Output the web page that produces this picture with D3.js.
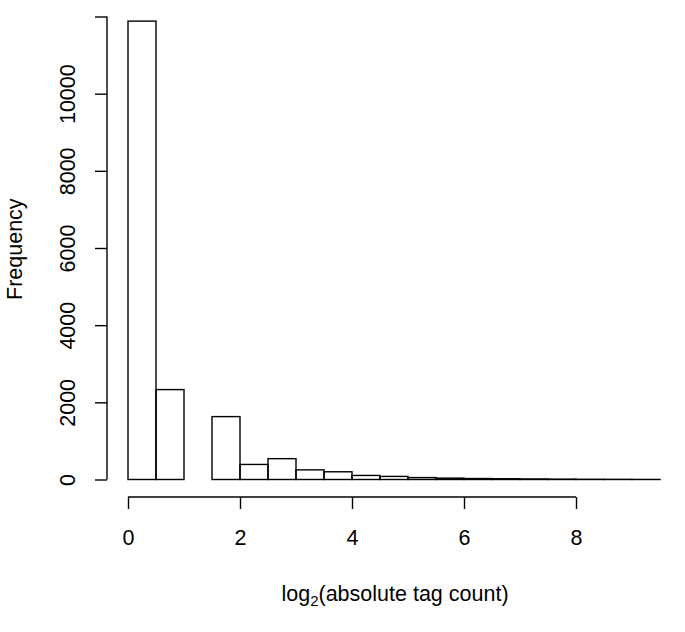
<!DOCTYPE html>
<html>
<head>
<meta charset="utf-8">
<script src="https://cdn.jsdelivr.net/npm/d3@7"></script>
<style>
  html, body { margin: 0; padding: 0; background: #fff; }
  svg text { font-family: "Liberation Sans", Arial, Helvetica, sans-serif; fill: #000; }
</style>
</head>
<body>
<svg id="chart" width="685" height="632"></svg>
<script>
// Histogram bin edges (log2 of absolute tag count), width 0.5
const binStarts = [0, 0.5, 1, 1.5, 2, 2.5, 3, 3.5, 4, 4.5, 5, 5.5, 6, 6.5, 7, 7.5, 8, 8.5, 9];
const binWidth = 0.5;
const frequencies = [11880, 2330, 0, 1630, 390, 540, 250, 200, 105, 80, 50, 35, 25, 20, 15, 10, 6, 4, 2];
const xTicks = [0, 2, 4, 6, 8];
const yTicks = [0, 2000, 4000, 6000, 8000, 10000, 12000];
const yTickLabels = ["0", "2000", "4000", "6000", "8000", "10000", ""];
const xLabelMain = "log";
const xLabelSub = "2";
const xLabelRest = "(absolute tag count)";
const yLabel = "Frequency";

const svg = d3.select("#chart");
const fontSize = 21.5;

const x = d3.scaleLinear().domain([0, 9.5]).range([128, 660]);
const y = d3.scaleLinear().domain([0, 12000]).range([479.5, 16.5]);

// Bars
svg.append("g")
  .selectAll("rect")
  .data(binStarts.map((s, i) => ({ s, f: frequencies[i] })))
  .join("rect")
  .attr("x", d => x(d.s))
  .attr("width", d => x(d.s + binWidth) - x(d.s))
  .attr("y", d => y(d.f))
  .attr("height", d => y(0) - y(d.f))
  .attr("fill", "none")
  .attr("stroke", "#000")
  .attr("stroke-width", 1.4);

// X axis (R style, detached)
const xAxisY = 497;
const xAxis = d3.axisBottom(x).tickValues(xTicks).tickFormat(d3.format("d")).tickSize(12).tickSizeOuter(0);
const gx = svg.append("g").attr("transform", `translate(0,${xAxisY})`).call(xAxis);
gx.select(".domain").attr("d", `M${x(0)},0H${x(8)}`).attr("stroke-width", 1.4);
gx.selectAll(".tick line").attr("stroke-width", 1.4);
gx.selectAll("text").style("font-size", fontSize + "px").attr("font-family", null)
  .attr("y", 48).attr("dy", null);

// Y axis
const yAxisX = 107;
const yAxis = d3.axisLeft(y).tickValues(yTicks).tickFormat((d, i) => yTickLabels[i]).tickSize(12).tickSizeOuter(0);
const gy = svg.append("g").attr("transform", `translate(${yAxisX},0)`).call(yAxis);
gy.select(".domain").attr("d", `M0,${y(0)}V${y(12000)}`).attr("stroke-width", 1.4);
gy.selectAll(".tick line").attr("stroke-width", 1.4);
gy.selectAll("text")
  .style("font-size", fontSize + "px")
  .attr("font-family", null)
  .attr("x", null).attr("dy", null)
  .attr("text-anchor", "middle")
  .attr("transform", "translate(-32,0) rotate(-90)");

// Y label
svg.append("text")
  .attr("transform", `translate(22,${y(5970)}) rotate(-90)`)
  .attr("text-anchor", "middle")
  .style("font-size", fontSize + "px")
  .text(yLabel);

// X label with subscript
const xl = svg.append("text")
  .attr("x", 395).attr("y", 601)
  .attr("text-anchor", "middle")
  .style("font-size", fontSize + "px");
xl.append("tspan").text(xLabelMain);
xl.append("tspan").attr("dy", 5).style("font-size", "15px").text(xLabelSub);
xl.append("tspan").attr("dy", -5).text(xLabelRest);
</script>
</body>
</html>
